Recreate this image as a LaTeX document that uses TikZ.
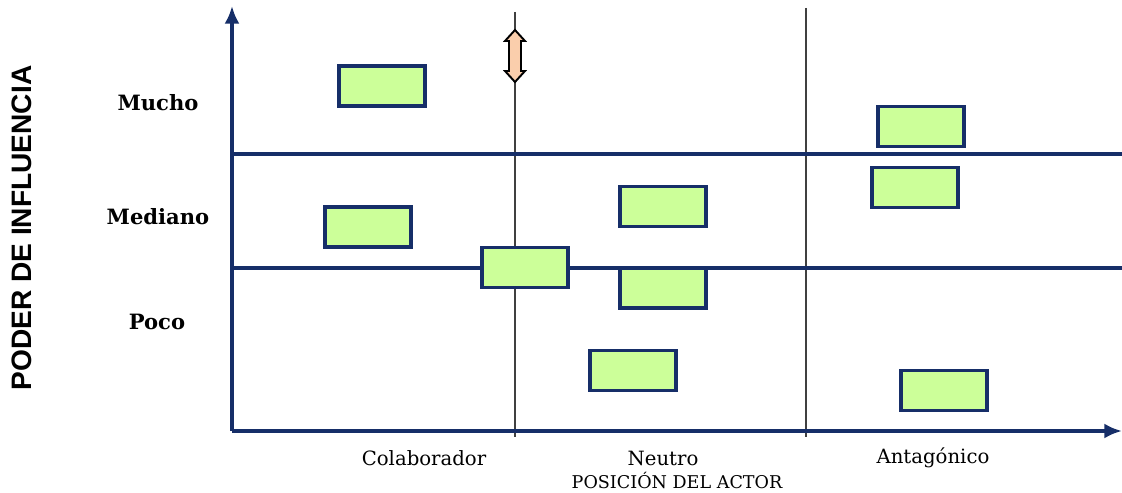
\documentclass[tikz,border=0pt]{standalone}
\usepackage{fontspec}
\setmainfont{DejaVu Serif}
\newfontfamily\axisfont{Liberation Sans}
\usetikzlibrary{positioning, arrows.meta}
\definecolor{ejeazul}{RGB}{22,46,104}
\definecolor{verdecaja}{RGB}{204,255,153}
\definecolor{durazno}{RGB}{250,206,172}
\tikzset{
  eje/.style={line width=2.3pt, ejeazul, -{Latex[length=10pt, width=8.5pt]}},
  franja/.style={line width=1.9pt, ejeazul},
  divisor/.style={line width=1pt, black!75},
  actor/.style={draw=ejeazul, fill=verdecaja, line width=2.1pt, minimum width=1.72cm, minimum height=0.8cm, inner sep=0pt},
  nivel/.style={font=\bfseries\fontsize{12}{14}\selectfont},
  posicion/.style={font=\fontsize{11.2}{13}\selectfont}
}
\begin{document}
\begin{tikzpicture}[x=0.02cm, y=-0.02cm]
    \useasboundingbox (0,0) rectangle (1122,493);
    % ejes
    \coordinate (origen) at (232,431);
    \coordinate (ytope) at (232,6);
    \coordinate (xtope) at (1122,431);
    \draw[divisor] (515,12) -- (515,437);
    \draw[divisor] (806,8) -- (806,437);
    \draw[franja] (232,154) -- (1122,154);
    \draw[franja] (232,268) -- (1122,268);
    \draw[eje] (origen) -- (ytope);
    \draw[eje] (origen) -- (xtope);
    % flecha doble
    \draw[fill=durazno, line width=1.1pt, line join=miter]
        (515,30) -- (525,41) -- (521,41) -- (521,71) -- (525,71) -- (515,82)
        -- (505,71) -- (509,71) -- (509,41) -- (505,41) -- cycle;
    % actores
    \node[actor] (a1) at (382,86) {};
    \node[actor] (a2) at (921,126.5) {};
    \node[actor] (a3) at (915,187.5) {};
    \node[actor] (a4) at (663,206.5) {};
    \node[actor] (a5) at (368,227) {};
    \node[actor] (a6) at (525,267.5) {};
    \node[actor] (a7) at (663,288) {};
    \node[actor] (a8) at (633,370.5) {};
    \node[actor] (a9) at (944,390.5) {};
    % etiquetas
    \node[nivel] (mucho) at (158,103) {Mucho};
    \node[nivel] (mediano) at (158,217) {Mediano};
    \node[nivel] (poco) at (157,322) {Poco};
    \node[font=\axisfont\bfseries\fontsize{16}{19}\selectfont, rotate=90] (poder) at (22,228) {PODER DE INFLUENCIA};
    \node[posicion] (colab) at (424,458) {Colaborador};
    \node[posicion] (neutro) at (663,458) {Neutro};
    \node[posicion] (antag) at (933,458) {Antagónico};
    \node[font=\fontsize{10}{12}\selectfont] (posact) at (677,480) {POSICIÓN DEL ACTOR};
\end{tikzpicture}
\end{document}
